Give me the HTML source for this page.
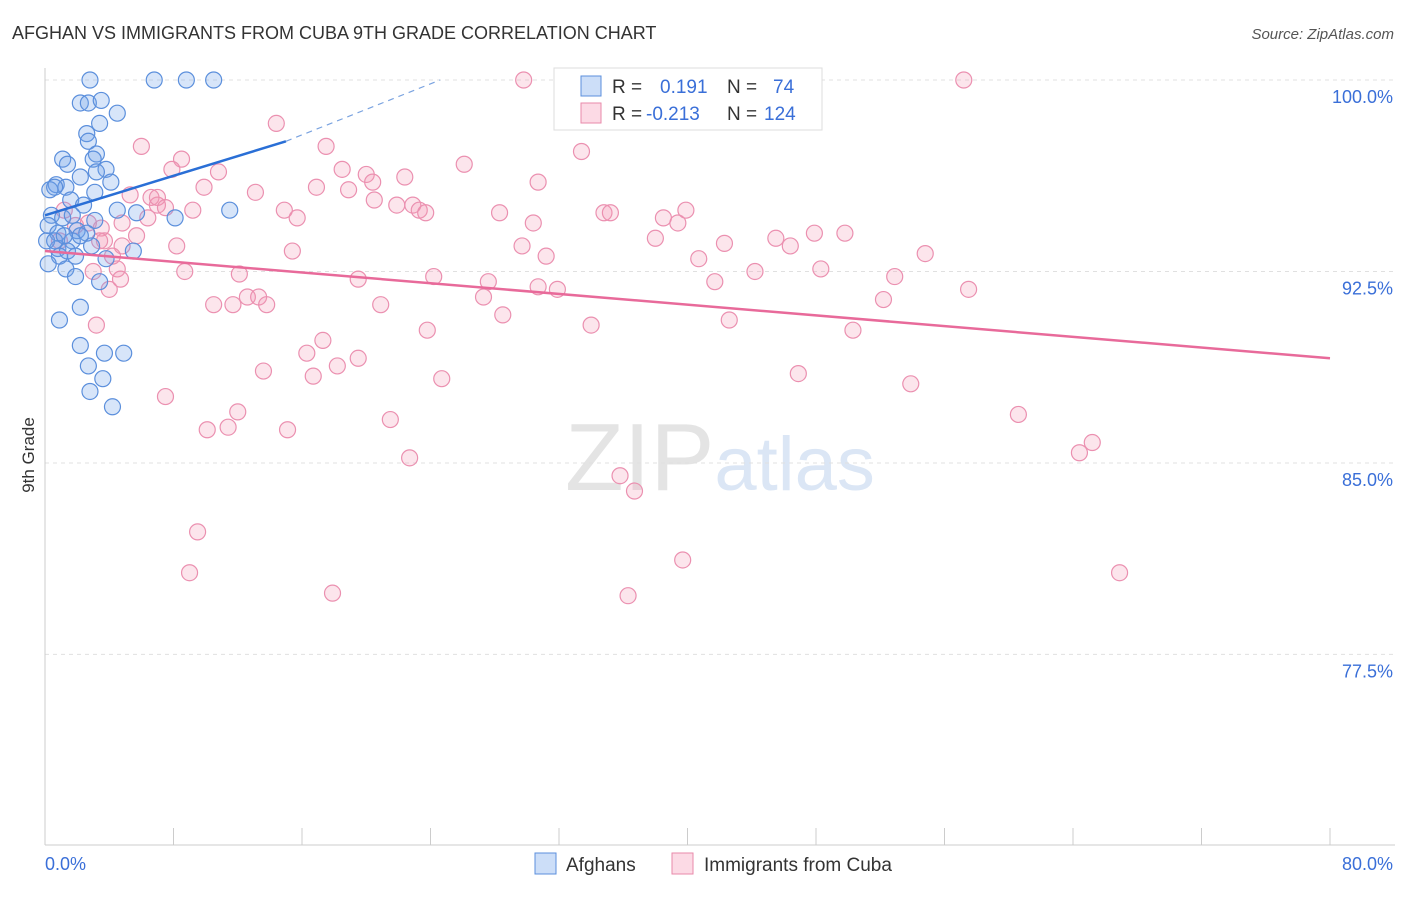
<!DOCTYPE html>
<html><head><meta charset="utf-8"><style>
body{margin:0;background:#fff;font-family:"Liberation Sans",sans-serif;}
svg text{font-family:"Liberation Sans",sans-serif;}
</style></head><body>
<svg id="chart" width="1406" height="892" xmlns="http://www.w3.org/2000/svg">
<text x="12" y="39" font-size="18" fill="#333">AFGHAN VS IMMIGRANTS FROM CUBA 9TH GRADE CORRELATION CHART</text>
<text x="1394" y="39" font-size="15" fill="#555" text-anchor="end" font-style="italic">Source: ZipAtlas.com</text>
<text x="720" y="490" font-size="96" text-anchor="middle" fill="#e4e4e4" font-family="Liberation Serif">ZIP<tspan fill="#dbe6f5" font-family="Liberation Sans" font-size="76">atlas</tspan></text>
<g id="grid"></g>
<g id="axes"></g>
<g id="pts"></g>
<g id="trend"></g>
<text transform="translate(34,455) rotate(-90)" font-size="17" fill="#333" text-anchor="middle">9th Grade</text>
<g>
<rect x="554" y="68" width="268" height="62" fill="#fff" stroke="#ddd"/>
<rect x="581" y="76" width="20" height="20" fill="rgba(110,160,235,0.35)" stroke="#5b8fdc"/>
<rect x="581" y="103" width="20" height="20" fill="rgba(245,150,180,0.35)" stroke="#e88aaa"/>
<text x="612" y="93" font-size="19" fill="#333">R =</text>
<text x="660" y="93" font-size="19" fill="#3a6fd8">0.191</text>
<text x="727" y="93" font-size="19" fill="#333">N =</text>
<text x="773" y="93" font-size="19" fill="#3a6fd8">74</text>
<text x="612" y="120" font-size="19" fill="#333">R =</text>
<text x="646" y="120" font-size="19" fill="#3a6fd8">-0.213</text>
<text x="727" y="120" font-size="19" fill="#333">N =</text>
<text x="764" y="120" font-size="19" fill="#3a6fd8">124</text>
</g>
<g>
<rect x="535" y="853" width="21" height="21" fill="rgba(110,160,235,0.35)" stroke="#5b8fdc"/>
<text x="566" y="871" font-size="19" fill="#333">Afghans</text>
<rect x="672" y="853" width="21" height="21" fill="rgba(245,150,180,0.35)" stroke="#e88aaa"/>
<text x="704" y="871" font-size="19" fill="#333">Immigrants from Cuba</text>
</g>
</svg>
<script>
const yTicks=[100,92.5,85,77.5];
const xTickVals=[0,8,16,24,32,40,48,56,64,72,80];
const blueX=[2.8,6.8,8.8,10.5,2.2,2.7,3.5,4.5,2.6,3.4,2.7,3.2,1.1,1.4,3.0,3.8,2.2,3.2,4.1,0.7,1.3,0.3,0.6,3.1,1.6,2.4,4.5,5.7,8.1,11.5,0.4,1.1,1.7,3.1,0.2,0.8,2.0,2.6,1.7,2.9,0.8,1.4,1.9,0.9,5.5,3.8,0.2,1.3,1.9,3.4,2.2,0.9,2.2,3.7,4.9,2.7,3.6,2.8,4.2,0.1,0.6,1.2,2.2];
const blueY=[100,100,100,100,99.1,99.1,99.2,98.7,97.9,98.3,97.6,97.1,96.9,96.7,96.9,96.5,96.2,96.4,96.0,95.9,95.8,95.7,95.8,95.6,95.3,95.1,94.9,94.8,94.6,94.9,94.7,94.6,94.7,94.5,94.3,94.0,94.1,94.0,93.7,93.5,93.4,93.3,93.1,93.1,93.3,93.0,92.8,92.6,92.3,92.1,91.1,90.6,89.6,89.3,89.3,88.8,88.3,87.8,87.2,93.7,93.7,93.9,93.9];
const pinkX=[29.8,57.2,14.4,6.0,8.5,17.5,26.1,33.4,7.9,10.8,18.5,20.0,20.4,22.4,30.7,9.9,13.1,16.9,18.9,5.3,6.6,7.0,20.5,21.9,22.9,23.3,23.7,14.9,15.7,9.2,28.3,30.4,34.8,35.2,38.5,39.4,39.9,4.8,3.5,5.7,8.2,15.4,29.7,31.2,38.0,42.3,45.5,46.4,47.9,49.8,54.8,40.7,48.3,44.2,41.7,52.9,8.7,12.1,19.5,24.2,27.6,30.7,31.9,57.5,4.5,3.0,4.0,10.5,11.7,12.6,13.3,13.8,20.9,27.3,28.5,34.0,42.6,52.2,50.3,23.8,3.2,17.3,16.3,19.5,13.6,16.7,18.2,24.7,46.9,53.9,7.5,12.0,10.1,11.4,15.1,21.5,22.7,60.6,65.2,64.4,35.8,36.7,9.5,39.7,9.0,17.9,36.3,66.9,0.9,1.9,3.7,1.2,2.7,4.8,7.0,7.5,4.2,4.7,3.4,6.4];
const pinkY=[100,100,98.3,97.4,96.9,97.4,96.7,97.2,96.5,96.4,96.5,96.3,96.0,96.2,96.0,95.8,95.6,95.8,95.7,95.5,95.4,95.1,95.3,95.1,95.1,94.9,94.8,94.9,94.6,94.9,94.8,94.4,94.8,94.8,94.6,94.4,94.9,94.4,94.2,93.9,93.5,93.3,93.5,93.1,93.8,93.6,93.8,93.5,94.0,94.0,93.2,93.0,92.6,92.5,92.1,92.3,92.5,92.4,92.2,92.3,92.1,91.9,91.8,91.8,92.6,92.5,91.8,91.2,91.2,91.5,91.5,91.2,91.2,91.5,90.8,90.4,90.6,91.4,90.2,90.2,90.4,89.8,89.3,89.1,88.6,88.4,88.8,88.3,88.5,88.1,87.6,87.0,86.3,86.4,86.3,86.7,85.2,86.9,85.8,85.4,84.5,83.9,82.3,81.2,80.7,79.9,79.8,80.7,93.7,94.3,93.7,94.9,94.4,93.5,95.4,95.0,93.1,92.2,93.7,94.6];
const blueTrend=[[0,94.7],[15,97.6]];
const blueDash=[[15,97.6],[24.6,100]];
const pinkTrend=[[0,93.3],[80,89.1]];
const NS="http://www.w3.org/2000/svg";
const X0=45,X1=1330,Y100=80,PPU=25.53;
const sx=v=>X0+(v/80)*(X1-X0);
const sy=v=>Y100+(100-v)*PPU;
function mk(tag,attrs,parent){const e=document.createElementNS(NS,tag);for(const k in attrs)e.setAttribute(k,attrs[k]);parent.appendChild(e);return e;}
const grid=document.getElementById('grid'),axes=document.getElementById('axes'),pts=document.getElementById('pts'),tr=document.getElementById('trend');
yTicks.forEach(t=>{
 const l=mk('line',{x1:X0,x2:1395,y1:sy(t),y2:sy(t),stroke:'#e0e0e0','stroke-dasharray':'4,4'},grid);
 
 
 const tx=mk('text',{x:1393,y:sy(t)+23,'font-size':18,fill:'#3a6fd8','text-anchor':'end'},axes);
 tx.textContent=t.toFixed(1)+'%';
 
 
});
const ya=mk('line',{x1:X0,x2:X0,y1:68,y2:845,stroke:'#ccc'},axes);


const xa=mk('line',{x1:X0,x2:1395,y1:845,y2:845,stroke:'#ccc'},axes);


xTickVals.forEach(v=>{
 const t=mk('line',{x1:sx(v),x2:sx(v),y1:828,y2:845,stroke:'#ccc'},axes);
 
 
});
const xl0=mk('text',{x:45,y:870,'font-size':18,fill:'#3a6fd8'},axes);xl0.textContent='0.0%';


const xl1=mk('text',{x:1393,y:870,'font-size':18,fill:'#3a6fd8','text-anchor':'end'},axes);xl1.textContent='80.0%';


pinkX.forEach((x,i)=>{
 const c=mk('circle',{cx:sx(x),cy:sy(pinkY[i]),r:8,fill:'rgba(245,150,180,0.25)',stroke:'#eb90b0','stroke-width':1.2},pts);
 
 
});
blueX.forEach((x,i)=>{
 const c=mk('circle',{cx:sx(x),cy:sy(blueY[i]),r:8,fill:'rgba(110,160,235,0.28)',stroke:'#5b8fdc','stroke-width':1.2},pts);
 
 
});
const pl=mk('line',{x1:sx(pinkTrend[0][0]),y1:sy(pinkTrend[0][1]),x2:sx(pinkTrend[1][0]),y2:sy(pinkTrend[1][1]),stroke:'#e86a9a','stroke-width':2.5},tr);


const bl=mk('line',{x1:sx(blueTrend[0][0]),y1:sy(blueTrend[0][1]),x2:sx(blueTrend[1][0]),y2:sy(blueTrend[1][1]),stroke:'#2a6fd6','stroke-width':2.5},tr);


const bd=mk('line',{x1:sx(blueDash[0][0]),y1:sy(blueDash[0][1]),x2:sx(blueDash[1][0]),y2:sy(blueDash[1][1]),stroke:'#7aa3e0','stroke-width':1.2,'stroke-dasharray':'6,5'},tr);


</script>
</body></html>
